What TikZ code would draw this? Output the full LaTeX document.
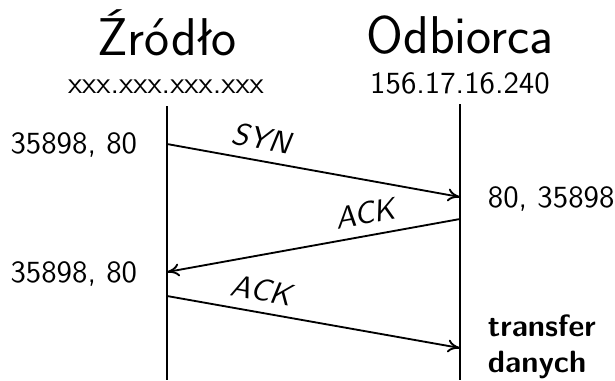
\documentclass[tikz,border=0pt]{standalone}
\usetikzlibrary{arrows.meta}
\font\titlefont="[lmsans17-regular.otf]" at 17.28pt
\begin{document}
\begin{tikzpicture}[x=0.325pt,y=-0.325pt,line width=0.6pt,
  title/.style={font=\titlefont, anchor=base, inner sep=0pt},
  addr/.style={font=\sffamily\fontsize{10}{12}\selectfont, anchor=base, inner sep=0pt},
  port/.style={font=\sffamily\fontsize{10}{12}\selectfont, inner sep=0pt},
  msg/.style={font=\sffamily\itshape\fontsize{10}{12}\selectfont, sloped, above},
  note/.style={font=\sffamily\bfseries\fontsize{10}{11.4}\selectfont, align=left, anchor=base west, inner sep=0pt},
  arr/.style={-{To[length=4pt,width=4.2pt]}},
  rarr/.style={{To[length=4pt,width=4.2pt]}-}]
\useasboundingbox (0,0) rectangle (615,380);
\node[title] (src) at (167,55) {Źródło};
\node[title] (dst) at (460,53) {Odbiorca};
\node[addr] (srcip) at (166,93) {xxx.xxx.xxx.xxx};
\node[addr] (dstip) at (460,93) {156.17.16.240};
\coordinate (sTop) at (167,106);
\coordinate (sBot) at (167,380);
\coordinate (dTop) at (460,104);
\coordinate (dBot) at (460,380);
\draw (sTop) -- (sBot);
\draw (dTop) -- (dBot);
\coordinate (s1) at (167,144);
\coordinate (d1) at (460,197);
\coordinate (d2) at (460,219);
\coordinate (s2) at (167,272);
\coordinate (s3) at (167,296);
\coordinate (d3) at (460,348);
\draw[arr] (s1) -- node[msg,pos=0.31] (syn) {SYN} (d1);
\draw[rarr] (s2) -- node[msg,pos=0.69] (ack1) {ACK} (d2);
\draw[arr] (s3) -- node[msg,pos=0.31] (ack2) {ACK} (d3);
\node[port, anchor=base east] (p1) at (138,153) {35898, 80};
\node[port, anchor=base west] (p2) at (487,207) {80, 35898};
\node[port, anchor=base east] (p3) at (138,282) {35898, 80};
\node[note, anchor=base west] (td) at (487,372) {transfer\\danych};
\end{tikzpicture}
\end{document}
